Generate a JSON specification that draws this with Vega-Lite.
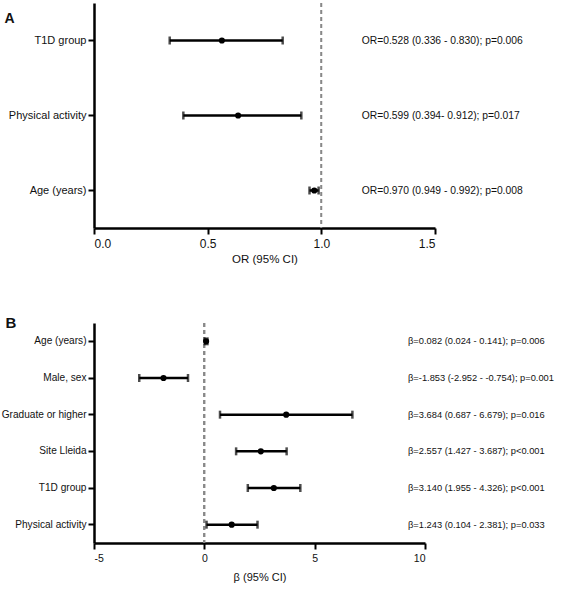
{
  "$schema": "https://vega.github.io/schema/vega-lite/v6.json",
  "padding": {"left": 1, "top": 2, "right": 5, "bottom": 2},
  "background": "white",
  "spacing": 50,
  "config": {
    "font": "Liberation Sans",
    "view": {"stroke": null},
    "axis": {
      "domainColor": "black",
      "domainWidth": 2.5,
      "tickColor": "black",
      "tickWidth": 2,
      "tickSize": 6,
      "labelColor": "#111",
      "titleColor": "#111",
      "titleFontWeight": "normal",
      "grid": false,
      "labelPadding": 4
    }
  },
  "vconcat": [
    {
      "width": 341,
      "height": 225,
      "data": {
        "values": [
          {"label": "T1D group", "est": 0.5625, "lo": 0.333, "hi": 0.83, "text": "OR=0.528 (0.336 - 0.830); p=0.006"},
          {"label": "Physical activity", "est": 0.634, "lo": 0.393, "hi": 0.912, "text": "OR=0.599 (0.394- 0.912); p=0.017"},
          {"label": "Age (years)", "est": 0.969, "lo": 0.948, "hi": 0.988, "text": "OR=0.970 (0.949 - 0.992); p=0.008"}
        ]
      },
      "encoding": {
        "y": {
          "field": "label", "type": "nominal", "sort": null,
          "scale": {"paddingInner": 0, "paddingOuter": 0},
          "axis": {
            "title": "A", "titleAngle": 0, "titleFontSize": 14, "titleFontWeight": "bold",
            "titleX": -90, "titleY": 15, "titleAlign": "left", "titleBaseline": "middle",
            "labelFontSize": 11, "labelPadding": 2
          }
        }
      },
      "layer": [
        {
          "mark": {"type": "rule", "strokeDash": [4, 3], "color": "#888", "strokeWidth": 1.5},
          "encoding": {"x": {"datum": 1}, "y": null}
        },
        {
          "mark": {"type": "rule", "color": "black", "strokeWidth": 2.5},
          "encoding": {
            "x": {
              "field": "lo", "type": "quantitative",
              "scale": {"domain": [0, 1.5], "nice": false, "zero": false},
              "axis": {"values": [0, 0.5, 1, 1.5], "format": ".1f", "title": "OR (95% CI)", "labelFontSize": 12, "titleFontSize": 11.5, "titlePadding": 4}
            },
            "x2": {"field": "hi"}
          }
        },
        {
          "mark": {"type": "tick", "color": "black", "thickness": 2.5, "size": 8},
          "encoding": {"x": {"field": "lo", "type": "quantitative"}}
        },
        {
          "mark": {"type": "tick", "color": "black", "thickness": 2.5, "size": 8},
          "encoding": {"x": {"field": "hi", "type": "quantitative"}}
        },
        {
          "mark": {"type": "point", "filled": true, "color": "black", "size": 38, "opacity": 1},
          "encoding": {"x": {"field": "est", "type": "quantitative"}}
        },
        {
          "mark": {"type": "text", "align": "left", "baseline": "middle", "fontSize": 10.3, "color": "#111"},
          "encoding": {"x": {"datum": 1.178}, "text": {"field": "text"}}
        }
      ]
    },
    {
      "width": 331,
      "height": 220,
      "data": {
        "values": [
          {"label": "Age (years)", "est": 0.08, "lo": 0.024, "hi": 0.141, "text": "β=0.082 (0.024 - 0.141); p=0.006"},
          {"label": "Male, sex", "est": -1.85, "lo": -2.95, "hi": -0.74, "text": "β=-1.853 (-2.952 - -0.754); p=0.001"},
          {"label": "Graduate or higher", "est": 3.71, "lo": 0.71, "hi": 6.71, "text": "β=3.684 (0.687 - 6.679); p=0.016"},
          {"label": "Site Lleida", "est": 2.56, "lo": 1.44, "hi": 3.73, "text": "β=2.557 (1.427 - 3.687); p<0.001"},
          {"label": "T1D group", "est": 3.15, "lo": 1.97, "hi": 4.35, "text": "β=3.140 (1.955 - 4.326); p<0.001"},
          {"label": "Physical activity", "est": 1.24, "lo": 0.1, "hi": 2.41, "text": "β=1.243 (0.104 - 2.381); p=0.033"}
        ]
      },
      "encoding": {
        "y": {
          "field": "label", "type": "nominal", "sort": null,
          "scale": {"paddingInner": 0, "paddingOuter": 0},
          "axis": {
            "title": "B", "titleAngle": 0, "titleFontSize": 15, "titleFontWeight": "bold",
            "titleX": -89, "titleY": -1, "titleAlign": "left", "titleBaseline": "middle",
            "labelFontSize": 10.1, "labelPadding": 2
          }
        }
      },
      "layer": [
        {
          "mark": {"type": "rule", "strokeDash": [4, 3], "color": "#888", "strokeWidth": 1.5},
          "encoding": {"x": {"datum": 0}, "y": null}
        },
        {
          "mark": {"type": "rule", "color": "black", "strokeWidth": 2.5},
          "encoding": {
            "x": {
              "field": "lo", "type": "quantitative",
              "scale": {"domain": [-5, 10], "nice": false, "zero": false},
              "axis": {"values": [-5, 0, 5, 10], "labelExpr": "'' + datum.value", "title": "β (95% CI)", "labelFontSize": 10.5, "titleFontSize": 11, "titlePadding": 8}
            },
            "x2": {"field": "hi"}
          }
        },
        {
          "mark": {"type": "tick", "color": "black", "thickness": 2.5, "size": 8},
          "encoding": {"x": {"field": "lo", "type": "quantitative"}}
        },
        {
          "mark": {"type": "tick", "color": "black", "thickness": 2.5, "size": 8},
          "encoding": {"x": {"field": "hi", "type": "quantitative"}}
        },
        {
          "mark": {"type": "point", "filled": true, "color": "black", "size": 38, "opacity": 1},
          "encoding": {"x": {"field": "est", "type": "quantitative"}}
        },
        {
          "mark": {"type": "text", "align": "left", "baseline": "middle", "fontSize": 9.3, "color": "#111"},
          "encoding": {"x": {"datum": 9.23}, "text": {"field": "text"}}
        }
      ]
    }
  ]
}
